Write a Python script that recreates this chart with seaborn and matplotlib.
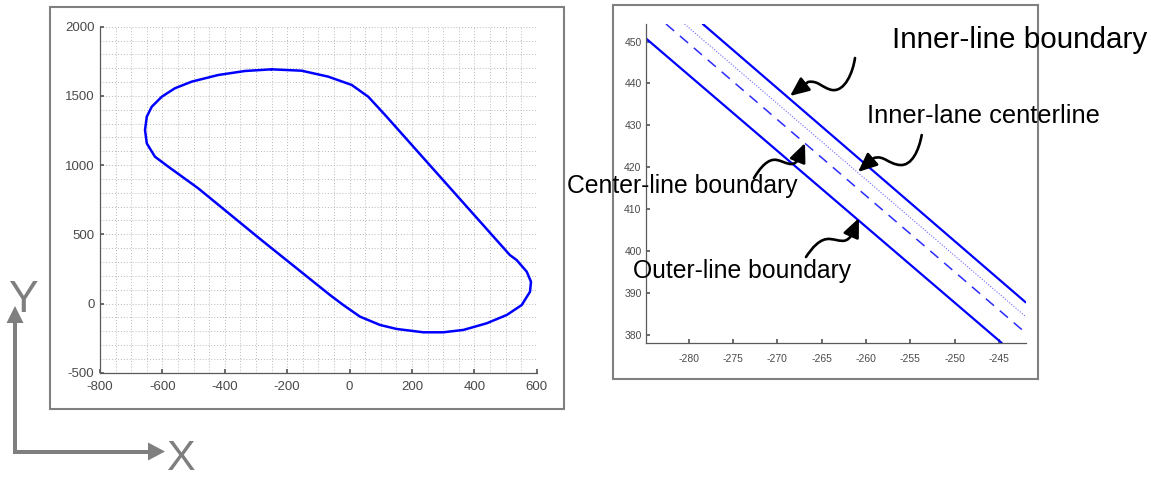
import matplotlib
matplotlib.use("Agg")
import matplotlib.pyplot as plt
import seaborn as sns
from matplotlib.patches import Rectangle, FancyArrowPatch, Polygon
from matplotlib.path import Path
from matplotlib.ticker import MultipleLocator

# ---------------- data ----------------
track_x = [-250, -335, -421, -506, -560, -602, -634, -650, -655.7, -650, -624, -581,
           -485, -285, -62.7, -20, 33.5, 97.6, 151, 236.5, 300.6, 364.7, 439.7, 504,
           552, 578.5, 581.7, 568, 535.7, 514, 114, 60, 7, -68, -153.5, -250]
track_y = [1692, 1680, 1651, 1603, 1555, 1494, 1422, 1350, 1253.6, 1157, 1061, 988.5,
           832, 463, 61.4, -11, -95, -155, -184, -208, -208, -191, -143, -83,
           -11, 85, 157, 230, 314, 350, 1362, 1494, 1579, 1639, 1682, 1692]

outer_x = [-284.84, -244.7]
outer_y = [450.8, 378.0]
inner_x = [-278.4, -242.0]
inner_y = [454.2, 387.7]
center_x = [-282.55, -242.0]
center_y = [454.2, 380.4]
lanec_x = [-280.46, -242.0]
lanec_y = [454.2, 384.3]

left_xticks = [-800, -600, -400, -200, 0, 200, 400, 600]
left_yticks = [-500, 0, 500, 1000, 1500, 2000]
right_xticks = [-280, -275, -270, -265, -260, -255, -250, -245]
right_yticks = [380, 390, 400, 410, 420, 430, 440, 450]

lbl_inner = "Inner-line boundary"
lbl_lane = "Inner-lane centerline"
lbl_center = "Center-line boundary"
lbl_outer = "Outer-line boundary"

# ---------------- figure ----------------
W, H = 1159, 480
sns.set_theme(style="white")
plt.rcParams['font.family'] = ['Liberation Sans', 'DejaVu Sans']
plt.rcParams['axes.unicode_minus'] = False
fig = plt.figure(figsize=(W / 100, H / 100), dpi=100)
fig.patch.set_facecolor("white")


def axrect(l, t, r, b):
    return [l / W, 1 - b / H, (r - l) / W, (b - t) / H]


def P(x, y):
    return (x / W, 1 - y / H)


tick_col = "#4a4a4a"
spine_col = "#5a5a5a"
blue = "#0000ff"

# ---- left panel ----
ax1 = fig.add_axes(axrect(100, 26.7, 536.7, 372.7))
sns.lineplot(x=track_x, y=track_y, sort=False, estimator=None, color=blue,
             lw=1.8, ax=ax1)
ax1.set_xlim(-800, 600)
ax1.set_ylim(-500, 2000)
ax1.set_xticks(left_xticks)
ax1.set_yticks(left_yticks)
ax1.xaxis.set_minor_locator(MultipleLocator(50))
ax1.yaxis.set_minor_locator(MultipleLocator(100))
ax1.grid(True, which="both", linestyle=(0, (1, 2)), color="#b8b8b8", lw=0.7)
ax1.set_axisbelow(True)
for s in ["top", "right"]:
    ax1.spines[s].set_visible(False)
for s in ["left", "bottom"]:
    ax1.spines[s].set_color(spine_col)
    ax1.spines[s].set_linewidth(0.9)
ax1.tick_params(which="major", direction="in", length=3, color=spine_col,
                labelcolor=tick_col, labelsize=9.5, left=True, bottom=True)
ax1.tick_params(axis="x", pad=6)
ax1.tick_params(axis="y", pad=4)
ax1.tick_params(which="minor", length=0)
ax1.set_xlabel("")
ax1.set_ylabel("")

# ---- right panel ----
ax2 = fig.add_axes(axrect(645.7, 24, 1025.7, 343))
sns.lineplot(x=outer_x, y=outer_y, sort=False, estimator=None, color=blue, lw=1.6, ax=ax2)
sns.lineplot(x=inner_x, y=inner_y, sort=False, estimator=None, color=blue, lw=1.6, ax=ax2)
sns.lineplot(x=center_x, y=center_y, sort=False, estimator=None, color="#2a2aff",
             lw=1.1, linestyle=(0, (7, 5)), ax=ax2)
sns.lineplot(x=lanec_x, y=lanec_y, sort=False, estimator=None, color="#6a6aff",
             lw=0.8, linestyle=(0, (1, 1.5)), ax=ax2)
ax2.set_xlim(-284.84, -241.99)
ax2.set_ylim(377.97, 454.2)
ax2.set_xticks(right_xticks)
ax2.set_yticks(right_yticks)
for s in ["top", "right"]:
    ax2.spines[s].set_visible(False)
for s in ["left", "bottom"]:
    ax2.spines[s].set_color(spine_col)
    ax2.spines[s].set_linewidth(0.9)
ax2.tick_params(direction="in", length=3, color=spine_col, labelcolor=tick_col,
                labelsize=7.5, left=True, bottom=True)
ax2.tick_params(axis="x", pad=8)
ax2.tick_params(axis="y", pad=3)
ax2.set_xlabel("")
ax2.set_ylabel("")

# ---- frames ----
frame_col = "#808080"
for (l, t, r, b) in [(50, 6.7, 564.3, 409), (613, 5, 1038, 379)]:
    fig.add_artist(Rectangle(P(l, b), (r - l) / W, (b - t) / H, transform=fig.transFigure,
                             fill=False, edgecolor=frame_col, lw=1.5, zorder=5))

# ---- annotation texts ----
renderer = fig.canvas.get_renderer()


def fit_text(txt, left, baseline, width):
    t = fig.text(*P(left, baseline), txt, ha="left", va="baseline", fontsize=20,
                 color="black", zorder=6)
    w = t.get_window_extent(renderer).width
    t.set_fontsize(20 * width / w)
    return t


fit_text(lbl_inner, 891.7, 48.3, 255)
fit_text(lbl_lane, 866.7, 123, 232)
fit_text(lbl_center, 566.7, 193, 230)
fit_text(lbl_outer, 633, 278, 218)


def squiggle(pts):
    verts = [P(x, y) for x, y in pts]
    codes = [Path.MOVETO] + [Path.CURVE4] * 6 + [Path.LINETO]
    arr = FancyArrowPatch(path=Path(verts, codes),
                          arrowstyle="-|>,head_length=1.15,head_width=0.5",
                          mutation_scale=10, transform=fig.transFigure,
                          lw=1.9, color="black", zorder=7)
    fig.add_artist(arr)


squiggle([(855, 58), (853, 72), (845, 92), (832, 90), (822, 88), (818, 80), (808, 82), (790, 96)])
squiggle([(921.7, 135), (919, 150), (912, 166), (900, 165), (888, 164), (884, 155), (874, 158), (858, 172)])
squiggle([(754, 178), (760, 168), (768, 158), (777, 160), (786, 162), (792, 168), (798, 160), (805, 143)])
squiggle([(806, 257), (812, 248), (820, 238), (830, 239), (840, 240), (845, 244), (851, 236), (859, 218)])

# ---- XY axes glyph ----
gcol = "#7f7f7f"
fig.add_artist(Polygon([P(13, 321), P(17, 321), P(17, 449.5), P(149, 449.5), P(149, 453.5),
                        P(13, 453.5)], closed=True, transform=fig.transFigure,
                       facecolor=gcol, edgecolor="none"))
fig.add_artist(Polygon([P(15, 306), P(6.5, 323), P(23.5, 323)], closed=True,
                       transform=fig.transFigure, facecolor=gcol, edgecolor="none"))
fig.add_artist(Polygon([P(165, 451.5), P(148, 442.5), P(148, 460.5)], closed=True,
                       transform=fig.transFigure, facecolor=gcol, edgecolor="none"))
fig.text(*P(23, 312), "Y", ha="center", va="baseline", fontsize=32, color=gcol)
fig.text(*P(180, 479.5), "X", ha="center", va="bottom", fontsize=31, color=gcol)

fig.savefig("out.png", dpi=100, facecolor="white")
